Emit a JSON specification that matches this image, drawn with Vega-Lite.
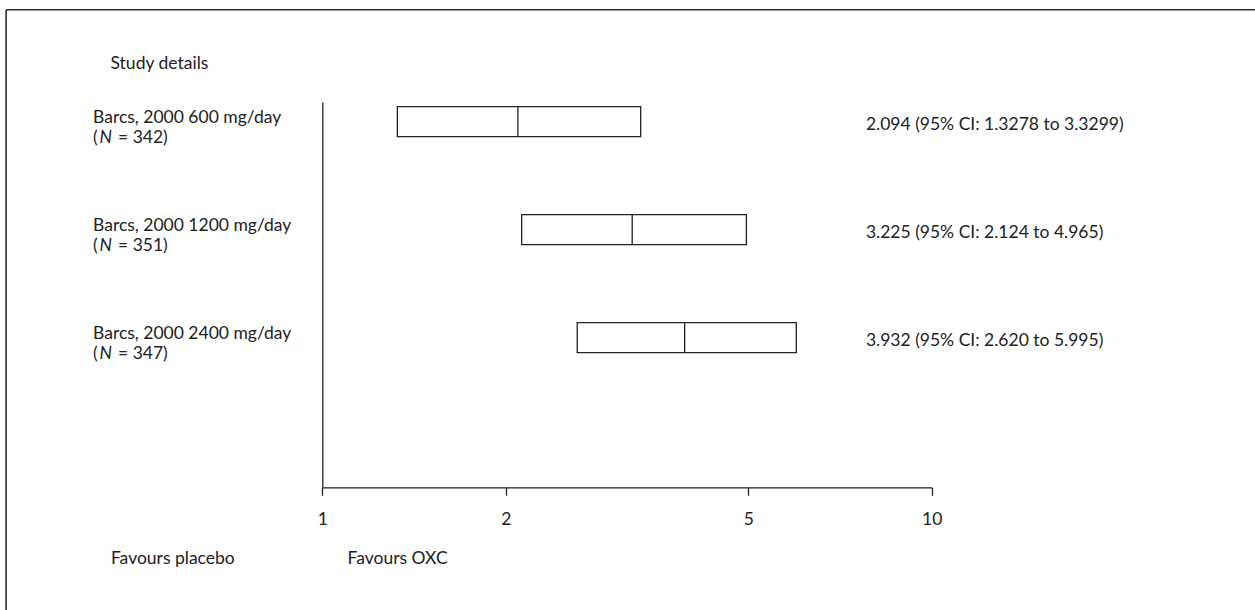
{
  "$schema": "https://vega.github.io/schema/vega-lite/v6.json",
  "width": 1300,
  "height": 660,
  "autosize": {"type": "none"},
  "padding": {"left": 6, "top": 9, "right": -51, "bottom": -59},
  "background": "white",
  "config": {
    "view": {"stroke": null},
    "font": "Lato",
    "text": {"font": "Lato", "fontSize": 17.5, "color": "#222"},
    "axis": {"labelFont": "Lato", "titleFont": "Lato", "grid": false}
  },
  "data": {
    "values": [
      {"row": 1, "study": "Barcs, 2000 600 mg/day", "n": "= 342)", "est": 2.094, "lo": 1.3278, "hi": 3.3299, "ci": "2.094 (95% CI: 1.3278 to 3.3299)"},
      {"row": 2, "study": "Barcs, 2000 1200 mg/day", "n": "= 351)", "est": 3.225, "lo": 2.124, "hi": 4.965, "ci": "3.225 (95% CI: 2.124 to 4.965)"},
      {"row": 3, "study": "Barcs, 2000 2400 mg/day", "n": "= 347)", "est": 3.932, "lo": 2.62, "hi": 5.995, "ci": "3.932 (95% CI: 2.620 to 5.995)"}
    ]
  },
  "layer": [
    {
      "mark": {"type": "bar", "orient": "horizontal", "fill": "white", "stroke": "#222", "strokeWidth": 1.3, "size": 30},
      "encoding": {
        "x": {
          "field": "lo", "type": "quantitative",
          "scale": {"type": "log", "domain": [1, 10], "range": [316.3, 925.7], "nice": false},
          "axis": {"orient": "bottom", "offset": -181.7, "values": [1, 2, 5, 10], "format": "d", "title": null,
                   "tickSize": 8, "tickWidth": 1.3, "tickColor": "#222", "domainColor": "#222", "domainWidth": 1.3,
                   "labelPadding": 29, "labelBaseline": "alphabetic", "labelFontSize": 17.5, "labelColor": "#222", "labelFlush": false}
        },
        "x2": {"field": "hi"},
        "y": {
          "field": "row", "type": "quantitative",
          "scale": {"domain": [0.8646, 4.3409], "range": [93, 478.3], "zero": false, "nice": false},
          "axis": {"orient": "left", "offset": -316.3, "ticks": false, "labels": false, "grid": false,
                   "domainColor": "#222", "domainWidth": 1.3,
                   "title": "Study details", "titleAngle": 0, "titleX": -212.3, "titleY": 59, "titleAlign": "left",
                   "titleBaseline": "alphabetic", "titleFontSize": 17.5, "titleFontWeight": "normal", "titleColor": "#222"}
        }
      }
    },
    {
      "mark": {"type": "tick", "orient": "vertical", "size": 30, "thickness": 1.3, "color": "#222", "opacity": 1},
      "encoding": {
        "x": {"field": "est", "type": "quantitative"},
        "y": {"field": "row", "type": "quantitative"}
      }
    },
    {
      "mark": {"type": "text", "align": "left", "baseline": "alphabetic", "dy": 1},
      "encoding": {
        "x": {"datum": 0.4205},
        "y": {"field": "row", "type": "quantitative"},
        "text": {"field": "study", "type": "nominal"}
      }
    },
    {
      "mark": {"type": "text", "align": "left", "baseline": "alphabetic", "dy": 21},
      "encoding": {
        "x": {"datum": 0.4205},
        "y": {"field": "row", "type": "quantitative"},
        "text": {"value": "("}
      }
    },
    {
      "mark": {"type": "text", "align": "left", "baseline": "alphabetic", "dy": 21, "dx": 6.5, "fontStyle": "italic"},
      "encoding": {
        "x": {"datum": 0.4205},
        "y": {"field": "row", "type": "quantitative"},
        "text": {"value": "N"}
      }
    },
    {
      "mark": {"type": "text", "align": "left", "baseline": "alphabetic", "dy": 21, "dx": 25},
      "encoding": {
        "x": {"datum": 0.4205},
        "y": {"field": "row", "type": "quantitative"},
        "text": {"field": "n", "type": "nominal"}
      }
    },
    {
      "mark": {"type": "text", "align": "left", "baseline": "alphabetic", "dy": 8},
      "encoding": {
        "x": {"datum": 7.8},
        "y": {"field": "row", "type": "quantitative"},
        "text": {"field": "ci", "type": "nominal"}
      }
    },
    {
      "data": {"values": [{"label": "Favours placebo"}]},
      "mark": {"type": "text", "align": "left", "baseline": "alphabetic"},
      "encoding": {"x": {"datum": 0.45}, "y": {"datum": 5.1}, "text": {"field": "label", "type": "nominal"}}
    },
    {
      "data": {"values": [{"label": "Favours OXC"}]},
      "mark": {"type": "text", "align": "left", "baseline": "alphabetic"},
      "encoding": {"x": {"datum": 1.1}, "y": {"datum": 5.1}, "text": {"field": "label", "type": "nominal"}}
    },
    {
      "data": {"values": [{}]},
      "mark": {"type": "rule", "color": "#2a2a2a", "strokeWidth": 1.6},
      "encoding": {"x": {"datum": 0.3028}, "x2": {"datum": 100}, "y": {"datum": -0.0358}}
    },
    {
      "data": {"values": [{}]},
      "mark": {"type": "rule", "color": "#444", "strokeWidth": 1.8},
      "encoding": {"x": {"datum": 0.3028}, "y": {"datum": -0.0358}, "y2": {"datum": 9}}
    }
  ]
}
